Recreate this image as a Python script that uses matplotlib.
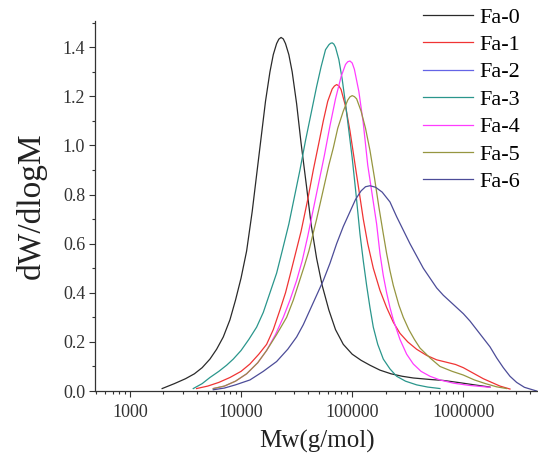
import numpy as np
import matplotlib
matplotlib.use("Agg")
import matplotlib.pyplot as plt
from matplotlib.ticker import LogLocator, NullFormatter, MultipleLocator, FixedLocator, FixedFormatter

plt.rcParams['font.family'] = ['Liberation Serif', 'DejaVu Serif']

labels = ["Fa-0", "Fa-1", "Fa-2", "Fa-3", "Fa-4", "Fa-5", "Fa-6"]
colors = ["#2a2a2a", "#f03434", "#6464e6", "#2a968c", "#ff3cff", "#969640", "#4c4c98"]

# log10(Mw) and dW/dlogM
fa0_logm = [3.29, 3.40, 3.50, 3.58, 3.65, 3.72, 3.78, 3.84, 3.90, 3.95, 4.00, 4.05, 4.10, 4.14, 4.18,
            4.22, 4.26, 4.29, 4.32, 4.34, 4.36, 4.38, 4.40, 4.43, 4.46, 4.50, 4.54, 4.59, 4.63, 4.68,
            4.73, 4.79, 4.85, 4.92, 5.00, 5.08, 5.16, 5.25, 5.35, 5.45, 5.55, 5.70, 5.82, 5.95, 6.10, 6.24]
fa0_w = [0.01, 0.03, 0.05, 0.07, 0.095, 0.13, 0.17, 0.22, 0.29, 0.37, 0.46, 0.57, 0.73, 0.88, 1.03,
         1.18, 1.30, 1.37, 1.415, 1.433, 1.44, 1.434, 1.415, 1.37, 1.30, 1.17, 1.01, 0.83, 0.68, 0.54,
         0.43, 0.33, 0.25, 0.19, 0.15, 0.125, 0.105, 0.085, 0.07, 0.06, 0.053, 0.047, 0.043, 0.035, 0.025, 0.016]

fa1_logm = [3.60, 3.70, 3.80, 3.90, 4.00, 4.08, 4.16, 4.23, 4.29, 4.35, 4.40, 4.44, 4.49, 4.54, 4.60,
            4.65, 4.70, 4.74, 4.78, 4.82, 4.84, 4.86, 4.88, 4.90, 4.94, 4.98, 5.02, 5.06, 5.10, 5.14,
            5.19, 5.25, 5.31, 5.37, 5.43, 5.50, 5.58, 5.67, 5.76, 5.85, 5.93, 6.00, 6.06, 6.12, 6.18,
            6.24, 6.33, 6.42]
fa1_w = [0.01, 0.02, 0.035, 0.055, 0.08, 0.11, 0.15, 0.19, 0.25, 0.33, 0.40, 0.47, 0.56, 0.65, 0.78,
         0.90, 1.01, 1.10, 1.18, 1.23, 1.242, 1.248, 1.243, 1.228, 1.16, 1.06, 0.94, 0.82, 0.70, 0.60,
         0.50, 0.41, 0.34, 0.28, 0.235, 0.20, 0.17, 0.145, 0.127, 0.117, 0.108, 0.095, 0.08, 0.065, 0.05,
         0.038, 0.02, 0.008]

fa2_logm = []
fa2_w = []

fa3_logm = [3.57, 3.65, 3.72, 3.80, 3.87, 3.93, 4.00, 4.07, 4.14, 4.20, 4.26, 4.32, 4.37, 4.43, 4.48,
            4.53, 4.58, 4.63, 4.68, 4.72, 4.76, 4.79, 4.805, 4.82, 4.835, 4.85, 4.88, 4.91, 4.94, 4.97,
            5.00, 5.035, 5.07, 5.10, 5.13, 5.16, 5.19, 5.23, 5.28, 5.34, 5.40, 5.48, 5.58, 5.68, 5.79]
fa3_w = [0.01, 0.03, 0.055, 0.08, 0.105, 0.13, 0.165, 0.21, 0.26, 0.32, 0.40, 0.48, 0.57, 0.68, 0.79,
         0.90, 1.02, 1.13, 1.24, 1.32, 1.39, 1.41, 1.416, 1.418, 1.413, 1.40, 1.35, 1.27, 1.17, 1.06,
         0.95, 0.80, 0.64, 0.53, 0.43, 0.34, 0.26, 0.19, 0.13, 0.09, 0.06, 0.04, 0.025, 0.016, 0.01]

fa4_logm = [3.75, 3.85, 3.95, 4.05, 4.15, 4.23, 4.31, 4.38, 4.44, 4.50, 4.55, 4.60, 4.65, 4.70, 4.75,
            4.80, 4.85, 4.90, 4.94, 4.96, 4.98, 5.00, 5.02, 5.06, 5.10, 5.14, 5.18, 5.22, 5.25, 5.28,
            5.31, 5.34, 5.37, 5.43, 5.49, 5.55, 5.62, 5.70, 5.79, 5.91, 6.05, 6.24]
fa4_w = [0.01, 0.02, 0.04, 0.07, 0.115, 0.165, 0.23, 0.30, 0.37, 0.45, 0.53, 0.63, 0.74, 0.85, 0.96,
         1.08, 1.19, 1.28, 1.33, 1.341, 1.344, 1.336, 1.31, 1.22, 1.09, 0.92, 0.80, 0.68, 0.56, 0.47,
         0.40, 0.34, 0.29, 0.21, 0.15, 0.11, 0.08, 0.06, 0.045, 0.032, 0.023, 0.015]

fa5_logm = [3.75, 3.85, 3.95, 4.05, 4.15, 4.23, 4.32, 4.41, 4.47, 4.52, 4.57, 4.61, 4.68, 4.74, 4.79,
            4.83, 4.87, 4.92, 4.96, 4.98, 5.00, 5.02, 5.04, 5.08, 5.12, 5.16, 5.20, 5.24, 5.28, 5.31,
            5.34, 5.37, 5.42, 5.46, 5.51, 5.56, 5.61, 5.70, 5.79, 5.90, 6.00, 6.10, 6.20, 6.30, 6.39]
fa5_w = [0.01, 0.02, 0.04, 0.07, 0.115, 0.165, 0.23, 0.30, 0.37, 0.44, 0.51, 0.57, 0.70, 0.82, 0.92,
         0.99, 1.07, 1.14, 1.185, 1.198, 1.203, 1.199, 1.19, 1.14, 1.07, 0.98, 0.87, 0.75, 0.64, 0.56,
         0.49, 0.43, 0.35, 0.30, 0.25, 0.21, 0.175, 0.135, 0.10, 0.08, 0.065, 0.045, 0.03, 0.017, 0.01]

fa6_logm = [3.75, 3.85, 3.95, 4.08, 4.20, 4.32, 4.42, 4.50, 4.56, 4.62, 4.68, 4.74, 4.80, 4.86, 4.92,
            4.98, 5.03, 5.08, 5.12, 5.16, 5.21, 5.27, 5.34, 5.40, 5.46, 5.52, 5.58, 5.64, 5.70, 5.76,
            5.82, 5.88, 5.94, 6.00, 6.06, 6.12, 6.18, 6.24, 6.30, 6.36, 6.42, 6.48, 6.55, 6.63, 6.66]
fa6_w = [0.005, 0.012, 0.025, 0.045, 0.08, 0.12, 0.17, 0.22, 0.27, 0.33, 0.39, 0.45, 0.52, 0.60, 0.67,
         0.73, 0.78, 0.815, 0.832, 0.836, 0.83, 0.81, 0.77, 0.71, 0.655, 0.60, 0.55, 0.50, 0.46, 0.42,
         0.39, 0.365, 0.34, 0.315, 0.285, 0.25, 0.215, 0.18, 0.135, 0.095, 0.06, 0.035, 0.015, 0.004, 0.0]

series = [(fa0_logm, fa0_w), (fa1_logm, fa1_w), (fa2_logm, fa2_w), (fa3_logm, fa3_w),
          (fa4_logm, fa4_w), (fa5_logm, fa5_w), (fa6_logm, fa6_w)]

xticks = [1000, 10000, 100000, 1000000]
xticklabels = ["1000", "10000", "100000", "1000000"]
yticks = [0.0, 0.2, 0.4, 0.6, 0.8, 1.0, 1.2, 1.4]

W, H = 538, 461
fig = plt.figure(figsize=(W / 100, H / 100), dpi=100)
ax_l, ax_r, ax_b, ax_t = 95, 538, 391, 21
ax = fig.add_axes([ax_l / W, 1 - ax_b / H, (ax_r - ax_l) / W, (ax_b - ax_t) / H])

handles = []
for (lm, w), lab, c in zip(series, labels, colors):
    h, = ax.plot(10 ** np.array(lm, dtype=float), w, color=c, lw=0.9, label=lab,
                 solid_joinstyle='round')
    handles.append(h)

ax.set_xscale('log')
ax.set_xlim(485, 4.7e6)
ax.set_ylim(0, 1.507)

ax.xaxis.set_major_locator(FixedLocator(xticks))
ax.xaxis.set_major_formatter(FixedFormatter(xticklabels))
ax.xaxis.set_minor_locator(LogLocator(base=10, subs=np.arange(2, 10) * 1.0, numticks=20))
ax.xaxis.set_minor_formatter(NullFormatter())
ax.yaxis.set_major_locator(FixedLocator(yticks))
ax.yaxis.set_major_formatter(FixedFormatter([f"{v:.1f}" for v in yticks]))
ax.yaxis.set_minor_locator(MultipleLocator(0.1))

for s in ['top', 'right']:
    ax.spines[s].set_visible(False)
for s in ['left', 'bottom']:
    ax.spines[s].set_linewidth(0.9)
    ax.spines[s].set_color('#333333')

ax.tick_params(which='major', direction='out', length=4, width=0.8, labelsize=13, colors='#333333', pad=3)
ax.tick_params(which='minor', direction='out', length=2.5, width=0.8, colors='#333333')
ax.tick_params(axis='x', which='major', pad=5)

ax.set_xlabel("Mw(g/mol)", fontsize=18, color='#222222')
ax.set_ylabel("dW/dlogM", fontsize=24, color='#222222')
ax.xaxis.set_label_coords(0.502, -0.106)
ax.yaxis.set_label_coords(-0.108, 0.5)

fig.legend(handles=handles, labels=labels, loc='upper left', bbox_to_anchor=(423 / W, 1 - 7 / H),
           frameon=False, fontsize=16, handlelength=2.25, handletextpad=0.3,
           labelspacing=0.31, borderpad=0, borderaxespad=0)

fig.savefig("out.png", dpi=100)
